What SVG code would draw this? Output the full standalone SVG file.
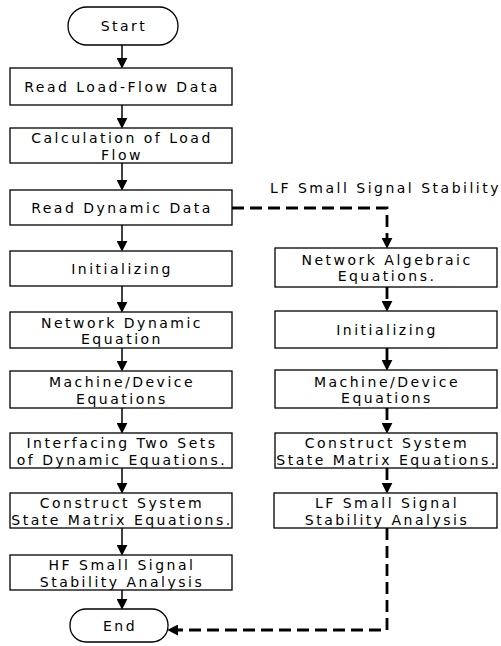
<svg xmlns="http://www.w3.org/2000/svg" width="501" height="646" viewBox="0 0 501 646">
<style>
.box{fill:#fff;stroke:#000;stroke-width:1.3}
.t{font-family:"DejaVu Sans",sans-serif;font-size:14px;letter-spacing:2.5px;text-anchor:middle;fill:#000}
.lab{font-family:"DejaVu Sans",sans-serif;font-size:14px;letter-spacing:2.5px;text-anchor:end;fill:#000}
.s{fill:none;stroke:#000;stroke-width:1.5}
.d{fill:none;stroke:#000;stroke-width:2.8;stroke-dasharray:12 6}
</style>
<defs>
<marker id="ah" viewBox="0 0 10 10" refX="2" refY="5" markerWidth="11" markerHeight="11" markerUnits="userSpaceOnUse" orient="auto">
<path d="M0,0 L10,5 L0,10 z" fill="#000" stroke="none"/>
</marker>
</defs>
<rect width="501" height="646" fill="#fff"/>

<g id="connectors">
<line class="s" x1="122" y1="45" x2="122" y2="60" marker-end="url(#ah)"/>
<line class="s" x1="122" y1="105" x2="122" y2="120" marker-end="url(#ah)"/>
<line class="s" x1="122" y1="163" x2="122" y2="182" marker-end="url(#ah)"/>
<line class="s" x1="122" y1="225" x2="122" y2="243" marker-end="url(#ah)"/>
<line class="s" x1="122" y1="286" x2="122" y2="304" marker-end="url(#ah)"/>
<line class="s" x1="122" y1="348" x2="122" y2="363" marker-end="url(#ah)"/>
<line class="s" x1="122" y1="408" x2="122" y2="425" marker-end="url(#ah)"/>
<line class="s" x1="122" y1="468" x2="122" y2="485" marker-end="url(#ah)"/>
<line class="s" x1="122" y1="528" x2="122" y2="547" marker-end="url(#ah)"/>
<line class="s" x1="122" y1="590" x2="122" y2="601" marker-end="url(#ah)"/>
<polyline class="d" points="232,208 387,208 387,240" marker-end="url(#ah)"/>
<line class="d" x1="387" y1="287" x2="387" y2="303" marker-end="url(#ah)"/>
<line class="d" x1="387" y1="348" x2="387" y2="362" marker-end="url(#ah)"/>
<line class="d" x1="387" y1="408" x2="387" y2="425" marker-end="url(#ah)"/>
<line class="d" x1="387" y1="468" x2="387" y2="485" marker-end="url(#ah)"/>
<polyline class="d" points="387,528 387,630 176,630" marker-end="url(#ah)"/>
<text class="lab" x="501" y="193">LF Small Signal Stability</text>
</g>

<g id="start"><rect class="box" x="68" y="7" width="110" height="38" rx="19"/><text class="t" x="124" y="31">Start</text></g>
<g id="n1"><rect class="box" x="10" y="68" width="222" height="37"/><text class="t" x="122" y="92">Read Load-Flow Data</text></g>
<g id="n2"><rect class="box" x="10" y="128" width="222" height="35"/><text class="t" x="122" y="143">Calculation of Load</text><text class="t" x="122" y="159.5">Flow</text></g>
<g id="n3"><rect class="box" x="10" y="190" width="222" height="35"/><text class="t" x="122" y="213">Read Dynamic Data</text></g>
<g id="n4"><rect class="box" x="10" y="251" width="222" height="35"/><text class="t" x="122" y="274">Initializing</text></g>
<g id="n5"><rect class="box" x="10" y="312" width="222" height="36"/><text class="t" x="122" y="327.5">Network Dynamic</text><text class="t" x="122" y="344">Equation</text></g>
<g id="n6"><rect class="box" x="10" y="371" width="222" height="37"/><text class="t" x="122" y="387">Machine/Device</text><text class="t" x="122" y="403.5">Equations</text></g>
<g id="n7"><rect class="box" x="10" y="433" width="222" height="35"/><text class="t" x="122" y="448">Interfacing Two Sets</text><text class="t" x="122" y="464.5">of Dynamic Equations.</text></g>
<g id="n8"><rect class="box" x="10" y="493" width="222" height="35"/><text class="t" x="122" y="508">Construct System</text><text class="t" x="122" y="524.5">State Matrix Equations.</text></g>
<g id="n9"><rect class="box" x="10" y="555" width="222" height="35"/><text class="t" x="122" y="570">HF Small Signal</text><text class="t" x="122" y="586.5">Stability Analysis</text></g>
<g id="end"><rect class="box" x="70" y="609" width="98" height="33" rx="16"/><text class="t" x="120" y="631">End</text></g>

<g id="r1"><rect class="box" x="275" y="248" width="222" height="39"/><text class="t" x="387" y="264.5">Network Algebraic</text><text class="t" x="387" y="281">Equations.</text></g>
<g id="r2"><rect class="box" x="275" y="311" width="222" height="37"/><text class="t" x="387" y="335">Initializing</text></g>
<g id="r3"><rect class="box" x="275" y="370" width="222" height="38"/><text class="t" x="387" y="386.5">Machine/Device</text><text class="t" x="387" y="403">Equations</text></g>
<g id="r4"><rect class="box" x="275" y="433" width="222" height="35"/><text class="t" x="387" y="448">Construct System</text><text class="t" x="387" y="464.5">State Matrix Equations.</text></g>
<g id="r5"><rect class="box" x="274" y="493" width="223" height="35"/><text class="t" x="387" y="508">LF Small Signal</text><text class="t" x="387" y="524.5">Stability Analysis</text></g>
</svg>
